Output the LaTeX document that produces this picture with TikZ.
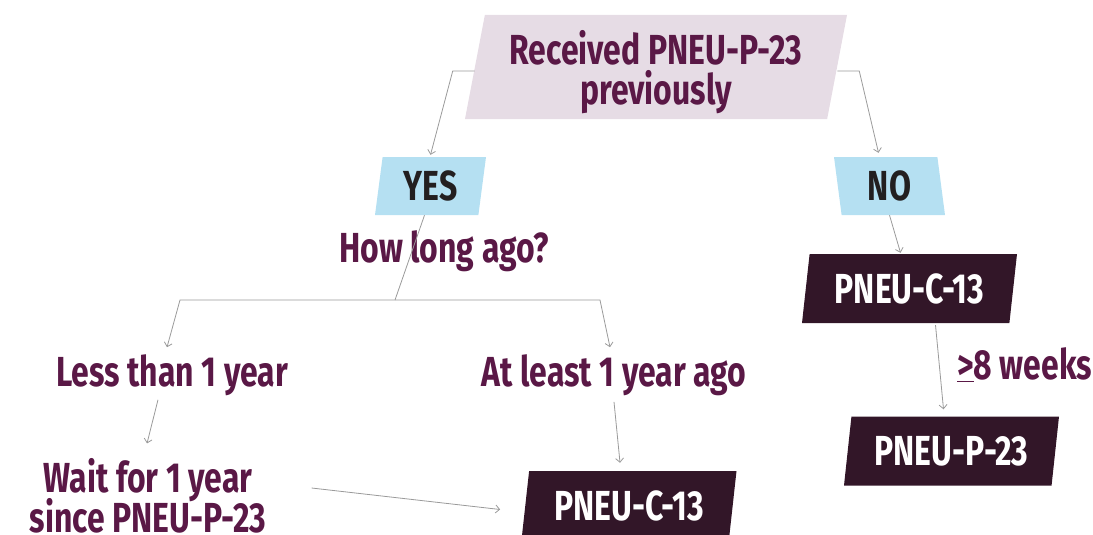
\documentclass[tikz,border=0pt]{standalone}
\usepackage{fontspec}
\setmainfont[FakeStretch=0.76]{Fira Sans}
\usetikzlibrary{shapes.geometric,arrows.meta}

\definecolor{plum}{HTML}{5A1846}
\definecolor{darkplum}{HTML}{321628}
\definecolor{mauve}{HTML}{E6DCE5}
\definecolor{skyblue}{HTML}{B5E0F2}
\definecolor{ink}{HTML}{231F20}
\definecolor{wire}{HTML}{9A9A9A}

\tikzset{
  para/.style={trapezium, trapezium left angle=76, trapezium right angle=104,
    trapezium stretches body, inner sep=0pt},
  revpara/.style={para, trapezium left angle=104, trapezium right angle=76},
  bigfont/.style={font=\bfseries\fontsize{42}{44}\selectfont},
  lbl/.style={bigfont, text=plum, inner sep=2pt, align=center},
  answer/.style={para, bigfont, fill=skyblue, text=ink, minimum width=111, minimum height=58},
  dose/.style={para, bigfont, fill=darkplum, text=white, minimum width=215, minimum height=69},
  wireline/.style={draw=wire, line width=0.8pt},
  arr/.style={wireline, -{Straight Barb[length=4pt,width=8pt]}}
}

\begin{document}
\begin{tikzpicture}[x=1pt,y=-1pt]
  \useasboundingbox (0,0) rectangle (1093,535);

  % question box
  \node[para, bigfont, fill=mauve, text=plum, align=center, trapezium left angle=75,
        trapezium right angle=105, minimum width=382, minimum height=104,
        text depth=0pt] (prev) at (656,67)
        {Received PNEU-P-23\\[-4pt]previously};

  \node[answer] (yes) at (430.5,186) {YES};
  \node[answer, revpara] (no) at (889.5,186) {NO};

  \node[lbl] (howlong) at (444,251) {How long ago?};
  \node[lbl] (less) at (172,375) {Less than 1 year};
  \node[lbl] (least) at (614,375) {At least 1 year ago};
  \node[lbl] (wait) at (148,496) {Wait for 1 year\\[-4pt]since PNEU-P-23};

  \node[dose] (lowc) at (629,505.5) {PNEU-C-13};
  \node[dose] (rightc) at (909.5,288.5) {PNEU-C-13};
  \node[dose] (rightp) at (951.5,451) {PNEU-P-23};
  \node[lbl, anchor=west, inner sep=0pt] (weeks) at (957,365) {\underline{>}8 weeks};

  \coordinate (split) at (395,300);
  \coordinate (lbend) at (180,300);
  \coordinate (rbend) at (600,300);

  % connectors
  \draw[arr] ([yshift=-4pt]prev.west) -- ++(-22,0) -- ([yshift=2pt]yes.north);
  \draw[arr] ([yshift=-4pt]prev.east) -- ++(22,0) -- ([xshift=-11pt,yshift=4pt]no.north);
  \draw[wireline] ([xshift=-6pt]yes.south) -- (split);
  \draw[arr] (split) -- (lbend) -- ([xshift=-5pt,yshift=5pt]less.north);
  \draw[arr] (split) -- (rbend) -- ([xshift=-4pt,yshift=5pt]least.north);
  \draw[arr] ([xshift=-14pt,yshift=-2pt]less.south) -- ([xshift=-1pt,yshift=13pt]wait.north);
  \draw[arr] ([xshift=43pt,yshift=8pt]wait.east) -- ([xshift=-25pt,yshift=-4pt]lowc.west);
  \draw[arr] ([yshift=-4pt]least.south) -- ([xshift=-9pt,yshift=8pt]lowc.north);
  \draw[arr] (no.south) -- ([xshift=-9pt,yshift=1pt]rightc.north);
  \draw[arr] ([xshift=26pt,yshift=-2pt]rightc.south) -- ([xshift=-8pt,yshift=7pt]rightp.north);
\end{tikzpicture}
\end{document}
